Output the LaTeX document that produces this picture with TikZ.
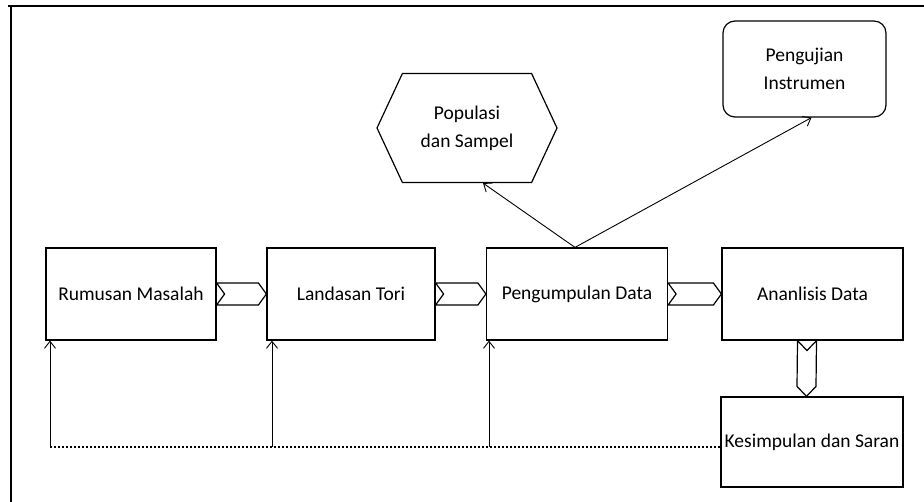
\documentclass[tikz,border=0pt]{standalone}
\usepackage{fontspec}
\setmainfont{Carlito}
\usetikzlibrary{arrows.meta,calc,shapes.symbols}

% horizontal chevron from one box to the next
\newcommand{\hchev}[2]{%
  \draw[chev] ($(#1.east)+(0,-11)$) -- ($(#2.west)+(-8,-11)$) -- (#2.west)
    -- ($(#2.west)+(-8,11)$) -- ($(#1.east)+(0,11)$) -- ($(#1.east)+(8,0)$) -- cycle;}

\begin{document}
\begin{tikzpicture}[x=1pt,y=-1pt,
  every node/.style={font=\fontsize{19.5}{28}\selectfont},
  box/.style={draw, line width=1.2pt, inner sep=0pt, align=center, minimum height=92pt},
  chev/.style={draw, line width=1.2pt, line join=miter},
  up/.style={-{Straight Barb[length=7pt,width=11pt]}, line width=0.9pt},
  fb/.style={line width=2.6pt, dash pattern=on 2.4pt off 1.6pt}]
\useasboundingbox (0,0) rectangle (924,502);

% Frame
\draw[line width=1.4pt] (8,6) -- (924,6);
\draw[line width=1.2pt] (11,6) -- (11,502);

% Main row
\node[box, minimum width=170pt] (rm) at (131,294) {Rumusan Masalah};
\node[box, minimum width=168pt] (lt) at (351,294) {Landasan Tori};
\node[box, minimum width=181pt] (pd) at (577,294) {Pengumpulan Data};
\node[box, minimum width=181pt] (ad) at (812.5,294) {Ananlisis Data};
\node[box, minimum width=182pt, minimum height=90pt] (ks) at (812,442) {Kesimpulan dan Saran};

% Upper nodes
\node[draw, line width=1.2pt, signal, signal to=west and east, signal pointer angle=130,
  align=center, inner sep=0pt, minimum width=180pt, minimum height=109pt] (ps) at (467,128) {Populasi\\dan Sampel};
\node[box, rounded corners=12pt, minimum width=163pt, minimum height=96pt] (pi) at (804.5,69) {Pengujian\\Instrumen};

% Chevrons
\hchev{rm}{lt}
\hchev{lt}{pd}
\hchev{pd}{ad}
\draw[chev] ($(ad.south)+(-15,0)$) -- ($(ad.south)+(-5.5,10)$) -- ($(ad.south)+(4,0)$)
  -- ($(ks.north)+(4,-10)$) -- ($(ks.north)+(-5.5,0)$) -- ($(ks.north)+(-15,-10)$) -- cycle;

% Arrows from Pengumpulan Data
\coordinate (pdt) at ($(pd.north)+(-2,0)$);
\draw[up] (pdt) -- ($(ps.south)+(16,0)$);
\draw[up] (pdt) -- ($(pi.south)+(7,0)$);

% Feedback line
\coordinate (f1) at (50,447);
\coordinate (f2) at (272,447);
\coordinate (f3) at (489,447);
\draw[fb] (f1) -- (f1 -| ks.west);
\draw[up] (f1) -- (f1 |- rm.south);
\draw[up] (f2) -- (f2 |- lt.south);
\draw[up] (f3) -- (f3 |- pd.south);
\end{tikzpicture}
\end{document}
